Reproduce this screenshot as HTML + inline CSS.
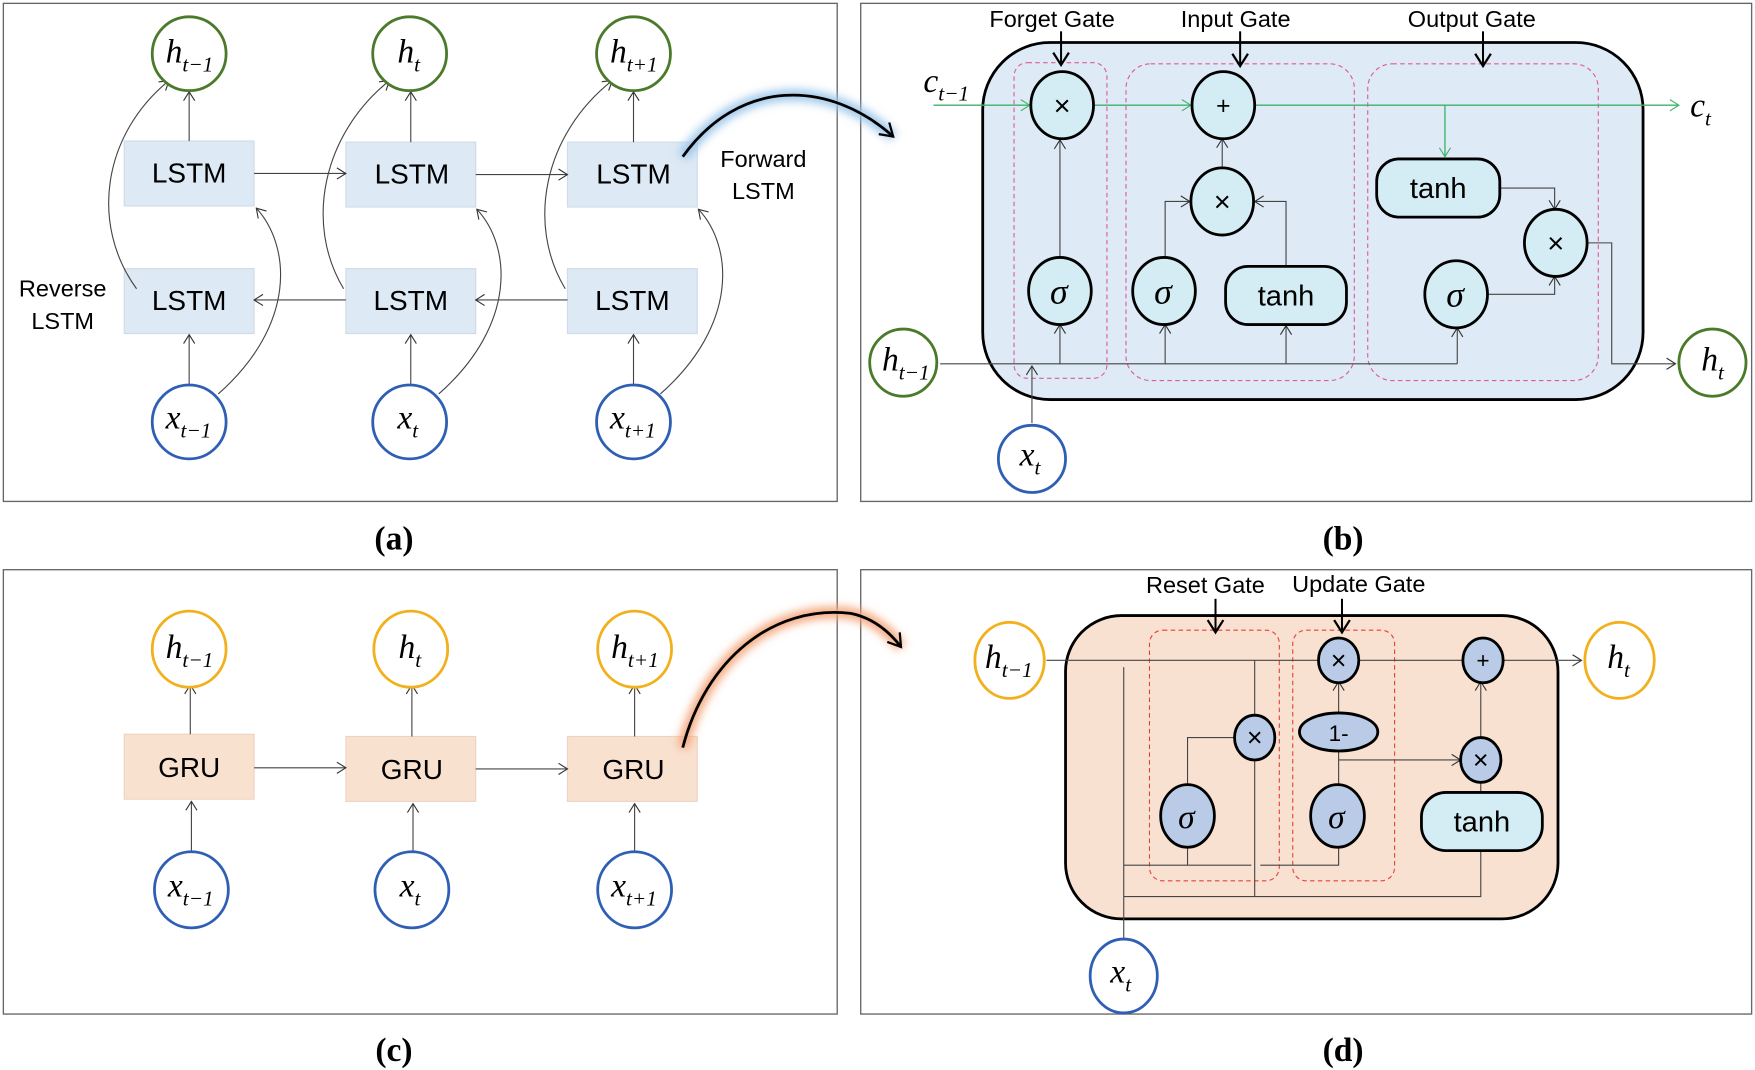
<!DOCTYPE html>
<html><head><meta charset="utf-8"><style>html,body{margin:0;padding:0;background:#fff}svg{display:block}</style></head>
<body>
<svg width="1755" height="1070" viewBox="0 0 1568 956" xmlns="http://www.w3.org/2000/svg">
<defs>
<marker id="a" markerWidth="12" markerHeight="12" refX="9" refY="6" orient="auto" markerUnits="userSpaceOnUse"><path d="M1,1 L9,6 L1,11" fill="none" stroke="#333" stroke-width="1"/></marker>
<marker id="ag" markerWidth="12" markerHeight="12" refX="9" refY="6" orient="auto" markerUnits="userSpaceOnUse"><path d="M1,1 L9,6 L1,11" fill="none" stroke="#3cb36a" stroke-width="1"/></marker>
<marker id="ab" markerWidth="16" markerHeight="16" refX="12" refY="8" orient="auto" markerUnits="userSpaceOnUse"><path d="M1,1 L12,8 L1,15" fill="none" stroke="#000" stroke-width="2"/></marker>
<filter id="gb" x="-30%" y="-30%" width="160%" height="160%"><feGaussianBlur stdDeviation="4"/></filter>
</defs>
<style>
.f{fill:none;stroke:#666;stroke-width:1.2}
.l{fill:none;stroke:#444;stroke-width:1}
.t{font-family:"Liberation Sans",sans-serif;text-anchor:middle}
.m{font-family:"Liberation Serif",serif;font-style:italic;font-size:30px}
.s{font-size:19px}
.hg{fill:#fff;stroke:#4a7a2a;stroke-width:2.5}
.xb{fill:#fff;stroke:#2f5fb5;stroke-width:2.5}
.hy{fill:#fff;stroke:#f2b01c;stroke-width:2.5}
.op{fill:#d4edf4;stroke:#000;stroke-width:2.5}
.og{fill:#b9cbe6;stroke:#000;stroke-width:2.5}
.d{fill:none;stroke:#e05a9a;stroke-width:1;stroke-dasharray:4,3}
.dr{fill:none;stroke:#e8403a;stroke-width:1;stroke-dasharray:4,3}
</style>
<!-- frames -->
<rect x="3" y="3" width="745" height="445" class="f" fill="#fff"/>
<rect x="769" y="3" width="796" height="445" class="f"/>
<rect x="3" y="509" width="745" height="397" class="f"/>
<rect x="769" y="509" width="796" height="397" class="f"/>
<g font-family="Liberation Serif,serif" font-weight="bold" font-size="30" text-anchor="middle">
<text x="352" y="491">(a)</text><text x="1200" y="491">(b)</text>
<text x="352" y="948">(c)</text><text x="1200" y="948">(d)</text>
</g>

<!-- Panel a -->
<g>
<rect x="111" y="126" width="116" height="58" fill="#dde9f4" stroke="#cfdbe6"/>
<rect x="309" y="127" width="116" height="58" fill="#dde9f4" stroke="#cfdbe6"/>
<rect x="507" y="127" width="116" height="58" fill="#dde9f4" stroke="#cfdbe6"/>
<rect x="111" y="240" width="116" height="58" fill="#dde9f4" stroke="#cfdbe6"/>
<rect x="309" y="240" width="116" height="58" fill="#dde9f4" stroke="#cfdbe6"/>
<rect x="507" y="240" width="116" height="58" fill="#dde9f4" stroke="#cfdbe6"/>
<g class="t" font-size="25">
<text x="169" y="163">LSTM</text><text x="368" y="164">LSTM</text><text x="566" y="164">LSTM</text>
<text x="169" y="277">LSTM</text><text x="367" y="277">LSTM</text><text x="565" y="277">LSTM</text>
<text x="56" y="265" font-size="21">Reverse</text><text x="56" y="294" font-size="21">LSTM</text>
<text x="682" y="149" font-size="21">Forward</text><text x="682" y="178" font-size="21">LSTM</text>
</g>
<!-- arrows -->
<g class="l" marker-end="url(#a)">
<line x1="169" y1="126" x2="169" y2="82"/><line x1="367" y1="127" x2="367" y2="82"/><line x1="566" y1="127" x2="566" y2="82"/>
<line x1="227" y1="155" x2="309" y2="155"/><line x1="425" y1="156" x2="507" y2="156"/>
<line x1="309" y1="268" x2="227" y2="268"/><line x1="507" y1="268" x2="425" y2="268"/>
<line x1="169" y1="344" x2="169" y2="299"/><line x1="367" y1="344" x2="367" y2="299"/><line x1="566" y1="344" x2="566" y2="299"/>
<path d="M195,352 C 265,290 260,220 229,186"/>
<path d="M392,352 C 462,290 457,220 426,187"/>
<path d="M590,352 C 660,290 655,220 624,187"/>
<path d="M122,258 C 80,200 92,120 151,72"/>
<path d="M307,258 C 272,200 288,120 348,72"/>
<path d="M505,258 C 470,200 486,120 547,72"/>
</g>
<circle cx="169" cy="48" r="33" class="hg"/><circle cx="366" cy="48" r="33" class="hg"/><circle cx="566" cy="48" r="33" class="hg"/>
<circle cx="169" cy="377" r="33" class="xb"/><circle cx="366" cy="377" r="33" class="xb"/><circle cx="566" cy="377" r="33" class="xb"/>
<g class="m">
<text x="148" y="56">h<tspan class="s" dy="8">t−1</tspan></text>
<text x="355" y="56">h<tspan class="s" dy="8">t</tspan></text>
<text x="545" y="56">h<tspan class="s" dy="8">t+1</tspan></text>
<text x="148" y="383">x<tspan class="s" dy="8">t−1</tspan></text>
<text x="355" y="383">x<tspan class="s" dy="8">t</tspan></text>
<text x="545" y="383">x<tspan class="s" dy="8">t+1</tspan></text>
</g>
<path d="M610,140 C 660,70 740,70 798,122" fill="none" stroke="#9cc6ea" stroke-width="10" filter="url(#gb)"/>
<path d="M610,140 C 660,70 740,70 798,122" fill="none" stroke="#000" stroke-width="2.5" marker-end="url(#ab)"/>
</g>

<!-- Panel b -->
<g>
<rect x="878" y="38" width="590" height="319" rx="60" fill="#deeaf5" stroke="#000" stroke-width="2.5"/>
<rect x="906" y="56" width="83" height="282" rx="12" class="d"/>
<rect x="1006" y="57" width="204" height="283" rx="22" class="d"/>
<rect x="1222" y="57" width="206" height="283" rx="22" class="d"/>
<g class="t" font-size="21">
<text x="940" y="24">Forget Gate</text><text x="1104" y="24">Input Gate</text><text x="1315" y="24">Output Gate</text>
</g>
<g fill="none" stroke="#000" stroke-width="1.8" marker-end="url(#ab)">
<line x1="948" y1="28" x2="948" y2="58"/><line x1="1108" y1="28" x2="1108" y2="59"/><line x1="1325" y1="28" x2="1325" y2="59"/>
</g>
<g fill="none" stroke="#3cb36a" stroke-width="1.2" marker-end="url(#ag)">
<line x1="834" y1="94" x2="920" y2="94"/><line x1="978" y1="94" x2="1064" y2="94"/><line x1="1122" y1="94" x2="1500" y2="94"/>
<line x1="1291" y1="94" x2="1291" y2="140"/>
</g>
<g class="l" marker-end="url(#a)">
<line x1="840" y1="325" x2="1302" y2="325" marker-end="none"/>
<line x1="947" y1="325" x2="947" y2="290"/>
<line x1="947" y1="230" x2="947" y2="125"/>
<line x1="1041" y1="325" x2="1041" y2="290"/>
<line x1="1149" y1="325" x2="1149" y2="291"/>
<line x1="1302" y1="325" x2="1302" y2="293"/>
<line x1="922" y1="378" x2="922" y2="327"/>
<polyline points="1041,230 1041,180 1063,180"/>
<polyline points="1149,238 1149,180 1121,180"/>
<line x1="1092" y1="150" x2="1092" y2="124"/>
<polyline points="1340,168 1389,168 1389,187"/>
<polyline points="1330,263 1389,263 1389,247"/>
<polyline points="1418,217 1440,217 1440,325 1497,325"/>
</g>
<ellipse cx="949" cy="94" rx="28" ry="30" class="op"/>
<ellipse cx="1093" cy="94" rx="28" ry="30" class="op"/>
<ellipse cx="1092" cy="180" rx="28" ry="30" class="op"/>
<ellipse cx="947" cy="260" rx="28" ry="30" class="op"/>
<ellipse cx="1040" cy="260" rx="28" ry="30" class="op"/>
<ellipse cx="1390" cy="217" rx="28" ry="30" class="op"/>
<ellipse cx="1301" cy="263" rx="28" ry="30" class="op"/>
<rect x="1095" y="238" width="108" height="52" rx="20" class="op"/>
<rect x="1230" y="142" width="110" height="52" rx="20" class="op"/>
<g class="t" font-size="26">
<text x="949" y="103">×</text><text x="1093" y="102" font-size="22">+</text><text x="1092" y="189">×</text><text x="1390" y="226">×</text>
<text x="1149" y="273">tanh</text><text x="1285" y="177">tanh</text>
</g>
<g font-family="Liberation Serif,serif" font-style="italic" font-size="32" text-anchor="middle">
<text x="946" y="271">σ</text><text x="1039" y="271">σ</text><text x="1300" y="274">σ</text>
</g>
<circle cx="807" cy="324" r="30" class="hg"/><circle cx="1530" cy="324" r="30" class="hg"/>
<circle cx="922" cy="410" r="30" class="xb"/>
<g class="m">
<text x="788" y="331">h<tspan class="s" dy="8">t−1</tspan></text>
<text x="1520" y="331">h<tspan class="s" dy="8">t</tspan></text>
<text x="911" y="416">x<tspan class="s" dy="8">t</tspan></text>
<text x="825" y="82">c<tspan class="s" dy="8">t−1</tspan></text>
<text x="1510" y="104">c<tspan class="s" dy="8">t</tspan></text>
</g>
</g>

<!-- Panel c -->
<g>
<rect x="111" y="656" width="116" height="58" fill="#f9e1d0" stroke="#ecd3c2"/>
<rect x="309" y="658" width="116" height="58" fill="#f9e1d0" stroke="#ecd3c2"/>
<rect x="507" y="658" width="116" height="58" fill="#f9e1d0" stroke="#ecd3c2"/>
<g class="t" font-size="25">
<text x="169" y="694">GRU</text><text x="368" y="696">GRU</text><text x="566" y="696">GRU</text>
</g>
<g class="l" marker-end="url(#a)">
<line x1="170" y1="656" x2="170" y2="612"/><line x1="368" y1="658" x2="368" y2="612"/><line x1="567" y1="658" x2="567" y2="612"/>
<line x1="227" y1="686" x2="309" y2="686"/><line x1="425" y1="687" x2="507" y2="687"/>
<line x1="171" y1="763" x2="171" y2="716"/><line x1="369" y1="763" x2="369" y2="718"/><line x1="567" y1="763" x2="567" y2="718"/>
</g>
<ellipse cx="169" cy="580" rx="33" ry="34" class="hy"/><ellipse cx="367" cy="580" rx="33" ry="34" class="hy"/><ellipse cx="567" cy="580" rx="33" ry="34" class="hy"/>
<ellipse cx="171" cy="795" rx="33" ry="34" class="xb"/><ellipse cx="368" cy="795" rx="33" ry="34" class="xb"/><ellipse cx="567" cy="795" rx="33" ry="34" class="xb"/>
<g class="m">
<text x="148" y="588">h<tspan class="s" dy="8">t−1</tspan></text>
<text x="356" y="588">h<tspan class="s" dy="8">t</tspan></text>
<text x="546" y="588">h<tspan class="s" dy="8">t+1</tspan></text>
<text x="150" y="801">x<tspan class="s" dy="8">t−1</tspan></text>
<text x="357" y="801">x<tspan class="s" dy="8">t</tspan></text>
<text x="546" y="801">x<tspan class="s" dy="8">t+1</tspan></text>
</g>
<path d="M610,668 C 630,590 690,540 760,548 C 780,552 795,565 805,578" fill="none" stroke="#f4a57a" stroke-width="10" filter="url(#gb)"/>
<path d="M610,668 C 630,590 690,540 760,548 C 780,552 795,565 805,578" fill="none" stroke="#000" stroke-width="2.5" marker-end="url(#ab)"/>
</g>

<!-- Panel d -->
<g>
<rect x="952" y="550" width="440" height="271" rx="50" fill="#f9e1d2" stroke="#000" stroke-width="2.5"/>
<rect x="1027" y="563" width="116" height="224" rx="12" class="dr"/>
<rect x="1155" y="563" width="91" height="224" rx="12" class="dr"/>
<g class="t" font-size="21">
<text x="1077" y="530">Reset Gate</text><text x="1214" y="529">Update Gate</text>
</g>
<g fill="none" stroke="#000" stroke-width="1.8" marker-end="url(#ab)">
<line x1="1086" y1="535" x2="1086" y2="565"/><line x1="1199" y1="535" x2="1199" y2="565"/>
</g>
<g class="l" stroke="#555">
<line x1="935" y1="590" x2="1178" y2="590"/>
<line x1="1214" y1="590" x2="1307" y2="590"/>
<line x1="1343" y1="590" x2="1413" y2="590" marker-end="url(#a)"/>
<line x1="1004" y1="840" x2="1004" y2="596"/>
<line x1="1121" y1="590" x2="1121" y2="641"/>
<line x1="1121" y1="677" x2="1121" y2="801"/>
<polyline points="1103,659 1061,659 1061,701"/>
<polyline points="1004,773 1118,773"/>
<polyline points="1126,773 1196,773 1196,757"/>
<line x1="1061" y1="757" x2="1061" y2="773"/>
<polyline points="1004,801 1323,801 1323,760"/>
<line x1="1196" y1="701" x2="1196" y2="670"/>
<line x1="1196" y1="638" x2="1196" y2="609" marker-end="url(#a)"/>
<line x1="1196" y1="679" x2="1305" y2="679" marker-end="url(#a)"/>
<line x1="1323" y1="708" x2="1323" y2="697"/>
<line x1="1323" y1="661" x2="1323" y2="609" marker-end="url(#a)"/>
</g>
<ellipse cx="1121" cy="659" rx="18" ry="20" class="og"/>
<ellipse cx="1196" cy="590" rx="18" ry="20" class="og"/>
<ellipse cx="1325" cy="590" rx="18" ry="20" class="og"/>
<ellipse cx="1323" cy="679" rx="18" ry="20" class="og"/>
<ellipse cx="1196" cy="654" rx="35" ry="17" class="og" stroke-width="2"/>
<ellipse cx="1061" cy="729" rx="24" ry="28" class="og"/>
<ellipse cx="1195" cy="729" rx="24" ry="28" class="og"/>
<rect x="1270" y="708" width="108" height="52" rx="22" class="op"/>
<g class="t" font-size="24">
<text x="1121" y="667">×</text><text x="1196" y="598">×</text><text x="1325" y="597" font-size="20">+</text><text x="1323" y="687">×</text>
<text x="1196" y="662" font-size="20">1-</text>
<text x="1324" y="743" font-size="26">tanh</text>
</g>
<g font-family="Liberation Serif,serif" font-style="italic" font-size="30" text-anchor="middle">
<text x="1060" y="740">σ</text><text x="1194" y="740">σ</text>
</g>
<ellipse cx="902" cy="590" rx="31" ry="34" class="hy"/><ellipse cx="1447" cy="590" rx="31" ry="34" class="hy"/>
<ellipse cx="1004" cy="872" rx="30" ry="33" class="xb"/>
<g class="m">
<text x="880" y="597">h<tspan class="s" dy="8">t−1</tspan></text>
<text x="1436" y="597">h<tspan class="s" dy="8">t</tspan></text>
<text x="992" y="878">x<tspan class="s" dy="8">t</tspan></text>
</g>
</g>
</svg>
</body></html>
